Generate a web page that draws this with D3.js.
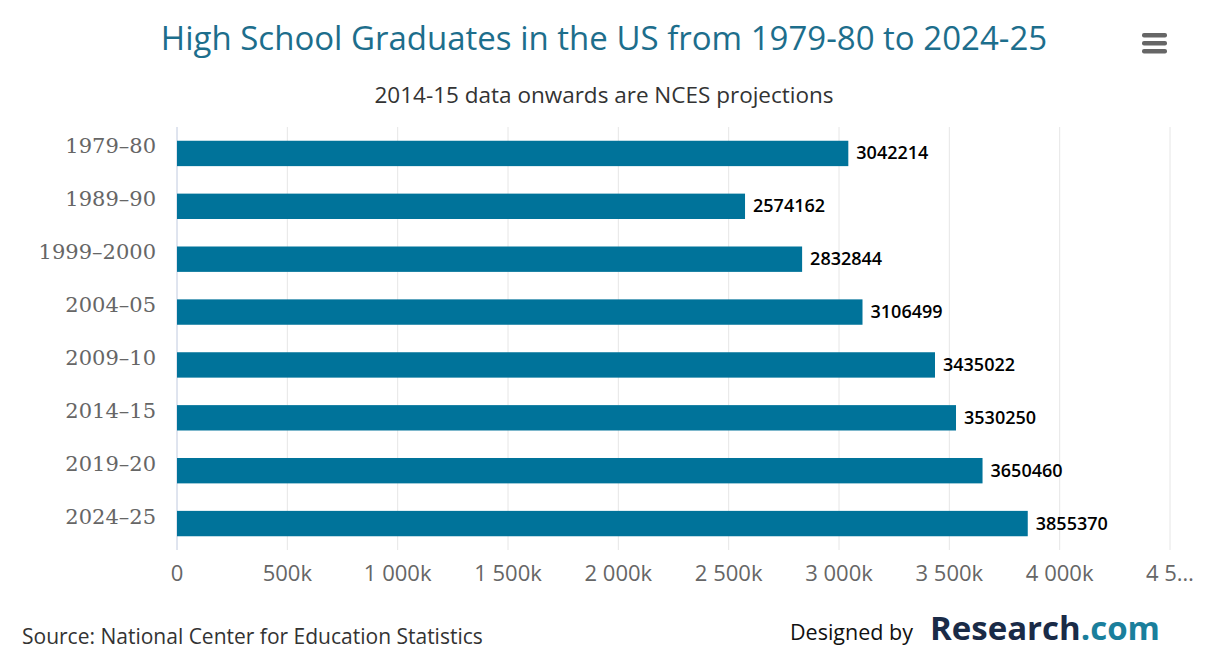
<!DOCTYPE html>
<html><head><meta charset="utf-8">
<script src="https://cdn.jsdelivr.net/npm/d3@7"></script>
<style>body{margin:0;background:#fff}svg{display:block}</style>
</head><body>
<svg id="c" width="1219" height="658"></svg>
<script>
const categories=["1979–80","1989–90","1999–2000","2004–05","2009–10","2014–15","2019–20","2024–25"];
const values=[3042214,2574162,2832844,3106499,3435022,3530250,3650460,3855370];
const tickValues=[0,500000,1000000,1500000,2000000,2500000,3000000,3500000,4000000,4500000];
const tickLabels=["0","500k","1 000k","1 500k","2 000k","2 500k","3 000k","3 500k","4 000k","4 5…"];

const svg=d3.select("#c");
const x=d3.scaleLinear().domain([0,4500000]).range([177,1170]);
const y=d3.scaleBand().domain(categories).range([127,550]).paddingInner(0.52).paddingOuter(0.26);

svg.append("text").attr("x",604).attr("y",50).attr("text-anchor","middle")
 .attr("font-family","Open Sans").attr("font-size",33).attr("fill","#1d6e8c")
 .text("High School Graduates in the US from 1979-80 to 2024-25");
svg.append("text").attr("x",604).attr("y",103).attr("text-anchor","middle")
 .attr("font-family","Open Sans").attr("font-size",22.5).attr("fill","#333")
 .text("2014-15 data onwards are NCES projections");
[35,43,51].forEach(yy=>svg.append("rect").attr("x",1142).attr("y",yy-2).attr("width",25).attr("height",4.5).attr("rx",2).attr("fill","#666"));

svg.append("g").selectAll("line").data(tickValues).join("line")
 .attr("x1",d=>x(d)).attr("x2",d=>x(d)).attr("y1",127).attr("y2",550)
 .attr("stroke","#e6e6e6").attr("stroke-width",1);
svg.append("line").attr("x1",177).attr("x2",177).attr("y1",127).attr("y2",550).attr("stroke","#ccd6eb");

svg.append("g").selectAll("rect").data(values).join("rect")
 .attr("x",x(0)).attr("y",(d,i)=>y(categories[i])).attr("width",d=>x(d)-x(0))
 .attr("height",y.bandwidth()).attr("fill","#00739a");
svg.append("g").selectAll("text").data(values).join("text")
 .attr("x",d=>x(d)+8).attr("y",(d,i)=>y(categories[i])+y.bandwidth()/2+6)
 .attr("font-family","Open Sans").attr("font-size",18).attr("font-weight",600).attr("fill","#000")
 .text(d=>d);
svg.append("g").selectAll("text").data(categories).join("text")
 .attr("x",156).attr("y",d=>y(d)+y.bandwidth()/2).attr("text-anchor","end")
 .attr("font-family","DejaVu Serif").attr("font-size",21).attr("fill","#666")
 .text(d=>d);
svg.append("g").selectAll("text").data(tickValues).join("text")
 .attr("x",d=>x(d)).attr("y",581).attr("text-anchor","middle")
 .attr("font-family","Open Sans").attr("font-size",22).attr("fill","#666")
 .text((d,i)=>tickLabels[i]);

svg.append("text").attr("x",22).attr("y",644).attr("font-family","Open Sans").attr("font-size",21).attr("fill","#333")
 .text("Source: National Center for Education Statistics");
svg.append("text").attr("x",790).attr("y",640).attr("font-family","Open Sans").attr("font-size",21.5).attr("fill","#111")
 .text("Designed by");
svg.append("text").attr("x",930).attr("y",640).attr("font-family","Open Sans").attr("font-size",33).attr("font-weight",700).attr("fill","#1a2b47")
 .text("Research").append("tspan").attr("fill","#1a7f9c").text(".com");
</script>
</body></html>
